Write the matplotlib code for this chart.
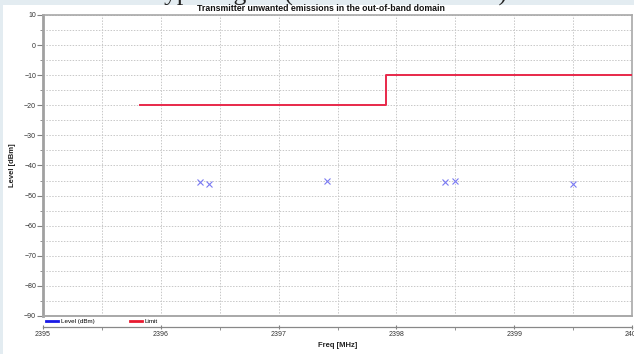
import numpy as np
import matplotlib.pyplot as plt
from matplotlib.lines import Line2D
from matplotlib.patches import Rectangle

# measured levels (dBm) at each frequency (MHz)
freqs = [2396.33, 2396.41, 2397.41, 2398.41, 2398.50, 2399.50]
levels = [-45.6, -46.2, -45.0, -45.6, -45.0, -46.1]

# limit mask, stepped
limit_freq = [2395.82, 2397.91, 2400.0]
limit_level = [-20, -10, -10]

x_ticks = [2395, 2396, 2397, 2398, 2399, 2400]
y_ticks = [10, 0, -10, -20, -30, -40, -50, -60, -70, -80, -90]

plt.rcParams['font.family'] = ['Liberation Sans', 'DejaVu Sans']

W, H = 634, 354
fig = plt.figure(figsize=(W / 100, H / 100), dpi=100, facecolor='#e3ecf1')
fig.patches.append(Rectangle((3 / W, 0), 1, 349 / H, transform=fig.transFigure,
                             facecolor='white', edgecolor='none', zorder=-5))

# heading of the page, mostly above the frame
fig.text(150 / W, 1 - 1 / H, 'Typical gain (out-of-band domain)', family='Liberation Serif',
         fontsize=18.5, color='#222222', ha='left', va='baseline')

ax = fig.add_axes([43 / W, 1 - 316 / H, 589 / W, 301 / H])
ax.set_facecolor('none')

ax.plot(freqs, levels, ls='none', marker='x', ms=4, mew=0.8, color='#7a7af2', zorder=3)
ax.step(limit_freq, limit_level, where='post', color='#e8284a', lw=1.4, zorder=3)

ax.set_xlim(2395, 2400)
ax.set_ylim(-90, 10)
ax.set_xticks(x_ticks)
ax.set_xticks(np.arange(2395.5, 2400, 1.0), minor=True)
ax.set_yticks(y_ticks)
ax.set_yticks(np.arange(-85, 10, 10), minor=True)
ax.grid(which='both', color='#c8c8c8', ls=(0, (1.5, 1.5)), lw=0.7)
ax.set_axisbelow(True)

ax.tick_params(axis='y', which='major', length=4, width=0.8, color='#808080',
               labelsize=5, labelcolor='#333333', pad=1)
ax.tick_params(axis='y', which='minor', length=2, width=0.6, color='#808080')
ax.tick_params(axis='x', which='major', length=3, width=0.8, direction='inout',
               color='#808080', labelsize=5, labelcolor='#333333', pad=1.5)
ax.tick_params(axis='x', which='minor', length=2, width=0.6, color='#808080')

for s in ['top', 'right']:
    ax.spines[s].set_color('#a8a8a8')
    ax.spines[s].set_linewidth(1.2)
ax.spines['left'].set_color('#a0a0a0')
ax.spines['left'].set_linewidth(2)
ax.spines['bottom'].set_position(('outward', 8))
ax.spines['bottom'].set_color('#888888')
ax.spines['bottom'].set_linewidth(0.9)
ax.axhline(-90, color='#a8a8a8', lw=1.4, clip_on=False, zorder=4)

ax.set_xlabel('Freq [MHz]', fontsize=5.5, fontweight='bold', color='#222222', labelpad=3)
ax.set_ylabel('Level [dBm]', fontsize=5.5, fontweight='bold', color='#222222', labelpad=6)

fig.text(321 / W, 1 - 8.5 / H, 'Transmitter unwanted emissions in the out-of-band domain',
         fontsize=6.3, fontweight='bold', color='#111111', ha='center', va='center')

handles = [Line2D([], [], color='#1a1ae6', lw=2),
           Line2D([], [], color='#e81a30', lw=2)]
ax.legend(handles, ['Level (dBm)', 'Limit'], loc='upper left', bbox_to_anchor=(0.003, -0.004),
          ncol=2, frameon=False, fontsize=4.5, handlelength=1.9, handletextpad=0.5,
          columnspacing=5.6, borderpad=0.1, borderaxespad=0.1)

fig.savefig('out.png', dpi=100, facecolor=fig.get_facecolor())
